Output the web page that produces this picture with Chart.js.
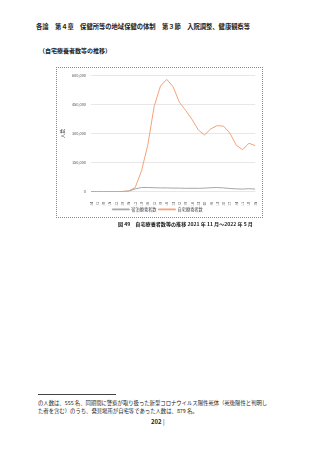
<!DOCTYPE html>
<html>
<head>
<meta charset="utf-8">
<script src="https://cdn.jsdelivr.net/npm/chart.js@4"></script>
<style>
  html, body { margin:0; padding:0; background:#fff; }
  body { width:320px; height:453px; position:relative; overflow:hidden;
         font-family:"Noto Sans CJK JP","Noto Sans",sans-serif; color:#222; }
  .t { position:absolute; white-space:nowrap; line-height:1; }
  #box { position:absolute; left:56px; top:67px; width:205px; height:149px;
         border:1px dotted #888; }
  #box canvas { position:absolute; left:0; top:0; }
</style>
</head>
<body>
<div class="t" style="left:36px;top:23.5px;font-size:6.3px;font-weight:bold;">各論　第４章　保健所等の地域保健の体制　第３節　入院調整、健康観察等</div>
<div class="t" style="left:39px;top:47.5px;font-size:6px;font-weight:bold;">（自宅療養者数等の推移）</div>

<div id="box"><canvas id="c" width="205" height="160"></canvas></div>

<div class="t" style="left:118px;top:220.5px;font-size:5.1px;font-weight:bold;">図 49　自宅療養者数等の推移 2021 年 11 月～2022 年 5 月</div>

<div style="position:absolute;left:38px;top:394px;width:78px;height:0;border-top:0.8px solid #444;"></div>
<div class="t" style="left:38px;top:400.6px;font-size:5.35px;">の人数は、555 名、同期間に警察が取り扱った新型コロナウイルス陽性死体（死後陽性と判明し</div>
<div class="t" style="left:38px;top:409px;font-size:5.35px;">た者を含む）のうち、発見場所が自宅等であった人数は、879 名。</div>
<div class="t" style="left:151px;top:419px;font-size:6px;font-weight:bold;">202 <span style="font-weight:normal">|</span></div>

<script>
const categories = ["11/24","12/1","12/8","12/15","12/22","12/29","1/5","1/12","1/19","1/26",
  "2/2","2/9","2/16","2/23","3/2","3/9","3/16","3/23","3/30","4/6","4/13","4/20","4/27",
  "5/4","5/11","5/18","5/25"];
const hotelValues = [1200,1100,1000,1000,1100,1500,3500,15000,22000,22000,
  21000,20000,20000,19000,19000,18000,18000,18000,19000,21000,22000,20000,17000,
  15000,14000,16000,14000];
const homeValues = [900,800,700,700,900,1800,5000,22000,108000,242000,
  440000,545000,579000,541000,461000,419000,373000,318000,293000,325000,341000,338000,302000,
  240000,217000,250000,238000];
const yTicks = [0,150000,300000,450000,600000];
const seriesNames = ["宿泊療養者数","自宅療養者数"];

const FONT = '"Noto Sans CJK JP","Noto Sans",sans-serif';

new Chart(document.getElementById('c'), {
  type: 'line',
  data: {
    labels: categories,
    datasets: [
      { label: seriesNames[0], data: hotelValues, borderColor:'#a6a6a6', backgroundColor:'#a6a6a6',
        borderWidth:1, pointRadius:0, tension:0 },
      { label: seriesNames[1], data: homeValues, borderColor:'#f5a27a', backgroundColor:'#f5a27a',
        borderWidth:1, pointRadius:0, tension:0 }
    ]
  },
  options: {
    responsive:false,
    animation:false,
    devicePixelRatio:1,
    layout:{ padding:{ top:5, right:4, left:0, bottom:6.5 } },
    plugins:{
      legend:{
        position:'bottom',
        labels:{ font:{ size:4.2, family:FONT }, color:'#444', boxWidth:17, boxHeight:0.8,
                 padding:2 }
      },
      tooltip:{ enabled:false }
    },
    scales:{
      x:{
        offset:false,
        grid:{ display:false },
        border:{ display:false },
        ticks:{ font:{ size:4, family:FONT }, color:'#444', minRotation:90, maxRotation:90,
                autoSkip:false, padding:2 },
        afterFit:(s)=>{ s.height = 13.5; }
      },
      y:{
        min:0, max:600000,
        afterBuildTicks:(s)=>{ s.ticks = yTicks.map(v=>({value:v})); },
        grid:{ color:'#dcdcdc', lineWidth:0.7, drawTicks:false },
        border:{ display:false },
        ticks:{ font:{ size:3.9, family:FONT }, color:'#555', padding:5,
                callback:(v)=>v.toLocaleString('en-US') },
        title:{ display:true, text:'人数', font:{ size:4.6, family:FONT }, color:'#444', padding:{top:2,bottom:4} },
        afterFit:(s)=>{ s.width = 34; }
      }
    }
  }
});
</script>
</body>
</html>
